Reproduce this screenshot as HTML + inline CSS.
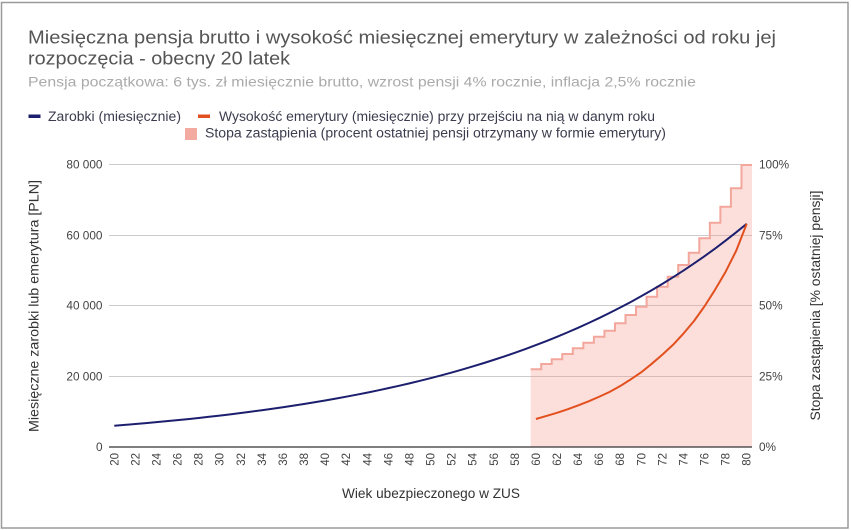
<!DOCTYPE html>
<html><head><meta charset="utf-8"><style>
html,body{margin:0;padding:0;background:#fff;}
svg{display:block;}
text{font-family:"Liberation Sans",Arial,sans-serif;}
</style></head><body>
<svg width="851" height="530" viewBox="0 0 851 530" xmlns="http://www.w3.org/2000/svg">
<rect x="0" y="0" width="851" height="530" fill="#fff"/>
<rect x="1.5" y="2.5" width="846.5" height="525.5" fill="#fff" stroke="#9a9a9a" stroke-width="1.5"/>

<!-- Title -->
<text x="28" y="43.5" font-size="18.5" fill="#555" textLength="748" lengthAdjust="spacingAndGlyphs">Miesięczna pensja brutto i wysokość miesięcznej emerytury w zależności od roku jej</text>
<text x="28" y="64.3" font-size="18.5" fill="#555" textLength="262" lengthAdjust="spacingAndGlyphs">rozpoczęcia - obecny 20 latek</text>
<text x="28" y="86.5" font-size="14" fill="#aaa" textLength="668" lengthAdjust="spacingAndGlyphs">Pensja początkowa: 6 tys. zł miesięcznie brutto, wzrost pensji 4% rocznie, inflacja 2,5% rocznie</text>

<!-- Legend -->
<rect x="28.5" y="114.5" width="12" height="3.5" fill="#1c1f6e"/>
<text x="48" y="121" font-size="13.5" fill="#3c3c4e" textLength="133" lengthAdjust="spacingAndGlyphs">Zarobki (miesięcznie)</text>
<rect x="198" y="114.5" width="12" height="3.5" fill="#e3501f"/>
<text x="219" y="121" font-size="13.5" fill="#3c3c4e" textLength="436" lengthAdjust="spacingAndGlyphs">Wysokość emerytury (miesięcznie) przy przejściu na nią w danym roku</text>
<rect x="185" y="128" width="12" height="12" fill="#f3aaa1"/>
<text x="205" y="137.5" font-size="13.5" fill="#3c3c4e" textLength="461" lengthAdjust="spacingAndGlyphs">Stopa zastąpienia (procent ostatniej pensji otrzymany w formie emerytury)</text>

<!-- Gridlines -->
<g stroke="#cccccc" stroke-width="1">
<line x1="109" y1="164.5" x2="752" y2="164.5"/>
<line x1="109" y1="235.5" x2="752" y2="235.5"/>
<line x1="109" y1="305.5" x2="752" y2="305.5"/>
<line x1="109" y1="376.5" x2="752" y2="376.5"/>
</g>

<!-- Stepped area -->
<path d="M530.64,447 V369.3 H541.18 V364 H551.72 V359.3 H562.26 V354 H572.80 V348.3 H583.35 V342.7 H593.89 V336.7 H604.43 V330.7 H614.97 V323.3 H625.51 V315 H636.05 V306.7 H646.59 V296.7 H657.13 V286.7 H667.67 V276.7 H678.21 V265 H688.76 V252.7 H699.30 V238.3 H709.84 V222.7 H720.38 V206.7 H730.92 V188.3 H741.46 V165 H752 V447 Z" fill="rgba(244,150,137,0.3)"/>
<path d="M530.64,369.3 H541.18 V364 H551.72 V359.3 H562.26 V354 H572.80 V348.3 H583.35 V342.7 H593.89 V336.7 H604.43 V330.7 H614.97 V323.3 H625.51 V315 H636.05 V306.7 H646.59 V296.7 H657.13 V286.7 H667.67 V276.7 H678.21 V265 H688.76 V252.7 H699.30 V238.3 H709.84 V222.7 H720.38 V206.7 H730.92 V188.3 H741.46 V165 H752" fill="none" stroke="#f2a69c" stroke-width="2"/>

<!-- Baseline -->
<line x1="109" y1="447" x2="752" y2="447" stroke="#333" stroke-width="1.3"/>

<!-- Blue line -->
<polyline fill="none" stroke="#1c1f6e" stroke-width="2" stroke-linejoin="round" points="114.27,425.78 124.81,424.93 135.35,424.04 145.89,423.13 156.43,422.17 166.98,421.18 177.52,420.14 188.06,419.07 198.60,417.95 209.14,416.79 219.68,415.58 230.22,414.33 240.76,413.02 251.30,411.66 261.84,410.25 272.39,408.78 282.93,407.25 293.47,405.66 304.01,404.00 314.55,402.28 325.09,400.49 335.63,398.63 346.17,396.70 356.71,394.69 367.25,392.59 377.80,390.42 388.34,388.15 398.88,385.80 409.42,383.35 419.96,380.81 430.50,378.16 441.04,375.41 451.58,372.54 462.12,369.56 472.66,366.47 483.21,363.24 493.75,359.89 504.29,356.41 514.83,352.79 525.37,349.02 535.91,345.10 546.45,341.02 556.99,336.78 567.53,332.37 578.07,327.79 588.61,323.02 599.16,318.06 609.70,312.90 620.24,307.54 630.78,301.96 641.32,296.16 651.86,290.13 662.40,283.85 672.94,277.33 683.48,270.54 694.02,263.48 704.56,256.14 715.11,248.51 725.65,240.57 736.19,232.31 746.73,223.72"/>

<!-- Orange line -->
<polyline fill="none" stroke="#e3501f" stroke-width="2" stroke-linejoin="round" points="535.91,419.02 546.45,415.92 556.99,412.84 567.53,409.33 578.07,405.42 588.61,401.30 599.16,396.74 609.70,391.89 620.24,386.04 630.78,379.35 641.32,372.22 651.86,363.69 662.40,354.59 672.94,344.89 683.48,333.52 694.02,321.00 704.56,306.24 715.11,289.68 725.65,271.72 736.19,250.75 746.73,223.72"/>

<!-- Left axis labels -->
<g font-size="11.8" fill="#444" text-anchor="end">
<text x="102.5" y="168.5">80 000</text>
<text x="102.5" y="239.5">60 000</text>
<text x="102.5" y="309.5">40 000</text>
<text x="102.5" y="380.5">20 000</text>
<text x="102.5" y="451">0</text>
</g>

<!-- Right axis labels -->
<g font-size="11.8" fill="#444">
<text x="759" y="168.5">100%</text>
<text x="759" y="239.5">75%</text>
<text x="759" y="309.5">50%</text>
<text x="759" y="380.5">25%</text>
<text x="759" y="451">0%</text>
</g>

<!-- X labels -->
<g font-size="11.5" fill="#444" text-anchor="end">
<text transform="translate(118.27,453) rotate(-90)">20</text>
<text transform="translate(139.35,453) rotate(-90)">22</text>
<text transform="translate(160.43,453) rotate(-90)">24</text>
<text transform="translate(181.52,453) rotate(-90)">26</text>
<text transform="translate(202.60,453) rotate(-90)">28</text>
<text transform="translate(223.68,453) rotate(-90)">30</text>
<text transform="translate(244.76,453) rotate(-90)">32</text>
<text transform="translate(265.84,453) rotate(-90)">34</text>
<text transform="translate(286.93,453) rotate(-90)">36</text>
<text transform="translate(308.01,453) rotate(-90)">38</text>
<text transform="translate(329.09,453) rotate(-90)">40</text>
<text transform="translate(350.17,453) rotate(-90)">42</text>
<text transform="translate(371.25,453) rotate(-90)">44</text>
<text transform="translate(392.34,453) rotate(-90)">46</text>
<text transform="translate(413.42,453) rotate(-90)">48</text>
<text transform="translate(434.50,453) rotate(-90)">50</text>
<text transform="translate(455.58,453) rotate(-90)">52</text>
<text transform="translate(476.66,453) rotate(-90)">54</text>
<text transform="translate(497.75,453) rotate(-90)">56</text>
<text transform="translate(518.83,453) rotate(-90)">58</text>
<text transform="translate(539.91,453) rotate(-90)">60</text>
<text transform="translate(560.99,453) rotate(-90)">62</text>
<text transform="translate(582.07,453) rotate(-90)">64</text>
<text transform="translate(603.16,453) rotate(-90)">66</text>
<text transform="translate(624.24,453) rotate(-90)">68</text>
<text transform="translate(645.32,453) rotate(-90)">70</text>
<text transform="translate(666.40,453) rotate(-90)">72</text>
<text transform="translate(687.48,453) rotate(-90)">74</text>
<text transform="translate(708.56,453) rotate(-90)">76</text>
<text transform="translate(729.65,453) rotate(-90)">78</text>
<text transform="translate(750.73,453) rotate(-90)">80</text>
</g>

<!-- Axis titles -->
<text transform="translate(38.5,306) rotate(-90)" font-size="13.5" fill="#333" text-anchor="middle" textLength="252" lengthAdjust="spacingAndGlyphs">Miesięczne zarobki lub emerytura [PLN]</text>
<text transform="translate(820,305.5) rotate(-90)" font-size="13.5" fill="#333" text-anchor="middle" textLength="230" lengthAdjust="spacingAndGlyphs">Stopa zastąpienia [% ostatniej pensji]</text>
<text x="431" y="498" font-size="13.5" fill="#333" text-anchor="middle" textLength="178" lengthAdjust="spacingAndGlyphs">Wiek ubezpieczonego w ZUS</text>
</svg>
</body></html>
